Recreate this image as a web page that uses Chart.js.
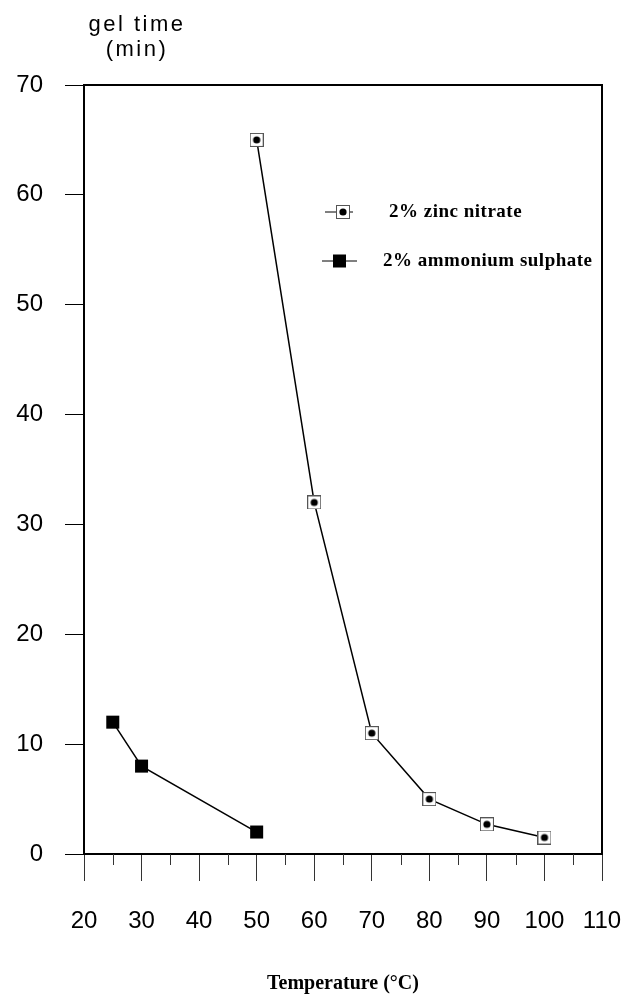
<!DOCTYPE html>
<html>
<head>
<meta charset="utf-8">
<script src="https://cdn.jsdelivr.net/npm/chart.js@4"></script>
<style>
  body { margin: 0; background: #fff; }
  canvas { display: block; }
</style>
</head>
<body>
<canvas id="gelChart" width="621" height="995"></canvas>
<script>
// data
const zincTemp = [50, 60, 70, 80, 90, 100];
const zincGel = [65, 32, 11, 5, 2.7, 1.5];
const ammTemp = [25, 30, 50];
const ammGel = [12, 8, 2];
const minorTicks = [25, 35, 45, 55, 65, 75, 85, 95, 105];
const seriesNames = ['2% zinc nitrate', '2% ammonium sulphate'];

// open square with a dot inside
function makeZincMarker() {
    const c = document.createElement('canvas');
    c.width = 14;
    c.height = 14;
    const g = c.getContext('2d');
    g.fillStyle = '#fff';
    g.fillRect(0, 0, 14, 14);
    g.strokeStyle = '#555';
    g.lineWidth = 1;
    g.strokeRect(0.5, 0.5, 13, 13);
    g.fillStyle = '#000';
    g.beginPath();
    g.arc(7, 7, 3.6, 0, Math.PI * 2);
    g.fill();
    return c;
}
const zincMarker = makeZincMarker();

const toPoints = (xs, ys) => xs.map((x, i) => ({ x: x, y: ys[i] }));

const extras = {
    id: 'extras',
    afterDraw(chart) {
        const ctx = chart.ctx;
        const area = chart.chartArea;
        const xs = chart.scales.x;
        ctx.save();
        // top and right frame
        ctx.strokeStyle = '#000';
        ctx.lineWidth = 2;
        ctx.beginPath();
        ctx.moveTo(area.left, area.top);
        ctx.lineTo(area.right, area.top);
        ctx.lineTo(area.right, area.bottom);
        ctx.stroke();

        // minor x ticks
        ctx.lineWidth = 1;
        ctx.strokeStyle = '#333';
        minorTicks.forEach(v => {
            const px = Math.round(xs.getPixelForValue(v)) + 0.5;
            ctx.beginPath();
            ctx.moveTo(px, area.bottom);
            ctx.lineTo(px, area.bottom + 11);
            ctx.stroke();
        });

        // y axis title
        ctx.fillStyle = '#000';
        ctx.font = '22px "Liberation Sans", Arial, sans-serif';
        ctx.textAlign = 'center';
        ctx.textBaseline = 'middle';
        ctx.letterSpacing = '2.5px';
        ctx.fillText('gel time', 137, 25);
        ctx.fillText('(min)', 137, 50);

        // legend
        ctx.letterSpacing = '0.5px';
        ctx.font = 'bold 19px "Liberation Serif", "Times New Roman", serif';
        ctx.textAlign = 'left';
        ctx.lineWidth = 1;
        ctx.strokeStyle = '#000';
        const y1 = area.top + 127;
        ctx.beginPath();
        ctx.moveTo(area.left + 241, y1);
        ctx.lineTo(area.left + 269, y1);
        ctx.stroke();
        ctx.drawImage(zincMarker, area.left + 252, y1 - 7);
        ctx.fillText(seriesNames[0], area.left + 305, y1);

        const y2 = area.top + 176;
        ctx.beginPath();
        ctx.moveTo(area.left + 238, y2);
        ctx.lineTo(area.left + 273, y2);
        ctx.stroke();
        ctx.fillRect(area.left + 249, y2 - 6.5, 13, 13);
        ctx.fillText(seriesNames[1], area.left + 299, y2);
        ctx.restore();
    }
};

new Chart(document.getElementById('gelChart'), {
    type: 'scatter',
    data: {
        datasets: [{
            label: seriesNames[0],
            data: toPoints(zincTemp, zincGel),
            showLine: true,
            borderColor: '#000',
            borderWidth: 1.5,
            pointStyle: zincMarker,
            tension: 0
        }, {
            label: seriesNames[1],
            data: toPoints(ammTemp, ammGel),
            showLine: true,
            borderColor: '#000',
            backgroundColor: '#000',
            borderWidth: 1.5,
            pointStyle: 'rect',
            pointRadius: 9.2,
            pointBorderWidth: 0,
            tension: 0
        }]
    },
    options: {
        responsive: false,
        animation: false,
        layout: { padding: { left: 0, right: 19, top: 85, bottom: 0 } },
        plugins: {
            legend: { display: false },
            tooltip: { enabled: false }
        },
        scales: {
            x: {
                type: 'linear',
                min: 20,
                max: 110,
                afterFit: scale => {
                    scale.height = 141;
                    scale.paddingLeft = 0;
                    scale.paddingRight = 0;
                },
                ticks: {
                    stepSize: 10,
                    autoSkip: false,
                    maxRotation: 0,
                    padding: 26,
                    color: '#000',
                    font: { family: '"Liberation Sans", Arial, sans-serif', size: 24 }
                },
                grid: {
                    drawOnChartArea: false,
                    tickLength: 27,
                    color: '#333',
                    lineWidth: 1
                },
                border: { color: '#000', width: 2 },
                title: {
                    display: true,
                    text: 'Temperature (°C)',
                    color: '#000',
                    padding: 0,
                    font: { family: '"Liberation Serif", "Times New Roman", serif', size: 20, weight: 'bold', lineHeight: 1.1 }
                }
            },
            y: {
                min: 0,
                max: 70,
                afterFit: scale => {
                    scale.width = 84;
                    scale.paddingTop = 0;
                    scale.paddingBottom = 0;
                },
                ticks: {
                    stepSize: 10,
                    padding: 22,
                    color: '#000',
                    font: { family: '"Liberation Sans", Arial, sans-serif', size: 24 }
                },
                grid: {
                    drawOnChartArea: false,
                    tickLength: 19,
                    color: '#000',
                    lineWidth: 1
                },
                border: { color: '#000', width: 2 }
            }
        }
    },
    plugins: [extras]
});
</script>
</body>
</html>
